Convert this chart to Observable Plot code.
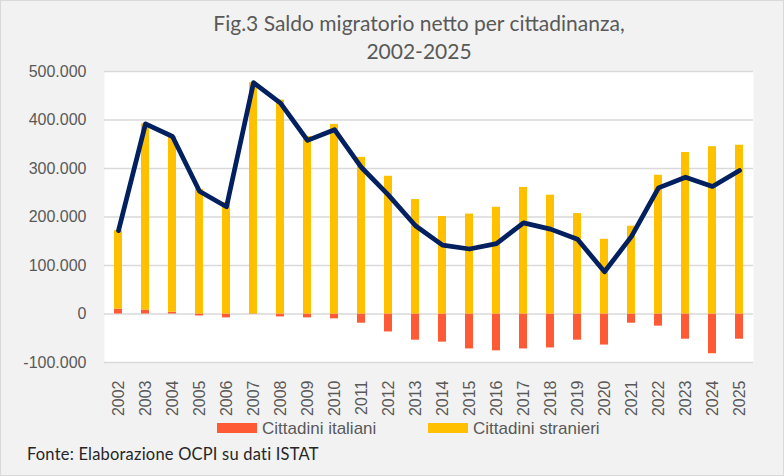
<!DOCTYPE html>
<html><head><meta charset="utf-8">
<script src="https://cdn.jsdelivr.net/npm/d3@7"></script>
<script src="https://cdn.jsdelivr.net/npm/@observablehq/plot@0.6"></script>
<style>
body{margin:0;background:#fff;}
#chart{position:relative;width:784px;height:476px;background:#f2f2f2;overflow:hidden;font-family:"Liberation Sans",Arial,sans-serif;}
#chart svg{position:absolute;left:0;top:0;}
#title{position:absolute;left:19px;width:800px;top:9px;text-align:center;font-family:Lato,sans-serif;font-size:21px;line-height:28px;color:#595959;white-space:nowrap;}
.sw{position:absolute;top:423px;width:40px;height:10px;}
.lt{position:absolute;top:419px;font-size:17px;line-height:19px;color:#595959;white-space:nowrap;}
#foot{position:absolute;left:27px;top:444px;font-family:Lato,sans-serif;font-size:16.5px;line-height:20px;color:#262626;white-space:nowrap;letter-spacing:0.2px;}
#border{position:absolute;left:0;top:0;width:784px;height:476px;box-sizing:border-box;border:1.5px solid #d9d9d9;pointer-events:none;}
</style>
</head><body>
<div id="chart">
  <div id="title">Fig.3 Saldo migratorio netto per cittadinanza,<br>2002-2025</div>
  <div id="legend"></div>
  <div id="foot">Fonte: Elaborazione OCPI su dati ISTAT</div>
  <div id="border"></div>
</div>
<script>
const years = ["2002","2003","2004","2005","2006","2007","2008","2009","2010","2011","2012","2013","2014","2015","2016","2017","2018","2019","2020","2021","2022","2023","2024","2025"];
const italiani = [10000, 8000, 3500, -4000, -8000, -1000, -6000, -8000, -10000, -19000, -37000, -54000, -58000, -72000, -76000, -72000, -70000, -54000, -64000, -19000, -25000, -52000, -82000, -52000];
const stranieri = [162000, 384000, 362000, 257000, 230000, 477000, 441000, 366000, 391000, 323000, 284000, 236000, 201000, 206000, 220000, 261000, 245000, 207000, 154000, 181000, 286000, 333000, 345000, 348000];
const totale = [172000, 392000, 366000, 253000, 221000, 477000, 435000, 358000, 380000, 302000, 245000, 182000, 142000, 134000, 145000, 188000, 175000, 154000, 87000, 160000, 260000, 282000, 263000, 296000];
const yTicks = [-100000, 0, 100000, 200000, 300000, 400000, 500000];
const seriesNames = ["Cittadini italiani", "Cittadini stranieri"];
const seriesColors = ["#FF5A36", "#FFC000"];

const bars = years.flatMap((y, i) => [
  {year: y, serie: seriesNames[0], value: italiani[i]},
  {year: y, serie: seriesNames[1], value: stranieri[i]}
]);
const lineData = years.map((y, i) => ({year: y, value: totale[i]}));
const itFmt = d3.formatLocale({decimal: ",", thousands: ".", grouping: [3], currency: ["€", ""], minus: "-"}).format(",.0f");

const plot = Plot.plot({
  width: 784, height: 420,
  marginLeft: 104, marginRight: 31, marginTop: 71, marginBottom: 58,
  style: {background: "transparent", fontFamily: "Liberation Sans, Arial, sans-serif", color: "#595959", overflow: "visible"},
  x: {type: "band", domain: years, paddingInner: 0.7, paddingOuter: 0.35, label: null},
  y: {domain: [-100000, 500000], label: null},
  color: {domain: seriesNames, range: seriesColors},
  marks: [
    Plot.frame({fill: "white", stroke: "none"}),
    Plot.ruleY(yTicks, {stroke: "#d9d9d9", strokeWidth: 1.5}),
    Plot.barY(bars, {x: "year", y: "value", fill: "serie"}),
    Plot.line(lineData, {x: "year", y: "value", stroke: "#002060", strokeWidth: 4.75, strokeLinejoin: "round", strokeLinecap: "round"}),
    Plot.axisY({ticks: yTicks, tickFormat: itFmt, tickSize: 0, tickPadding: 18, fontSize: 16}),
    Plot.axisX({tickRotate: -90, tickSize: 0, tickPadding: 18, fontSize: 16})
  ]
});
document.getElementById("chart").insertBefore(plot, document.getElementById("title"));

const legend = document.getElementById("legend");
const legendPos = [[217, 262], [428, 473]];
seriesNames.forEach((name, i) => {
  const sw = document.createElement("div");
  sw.className = "sw"; sw.style.left = legendPos[i][0] + "px"; sw.style.background = seriesColors[i];
  const lt = document.createElement("div");
  lt.className = "lt"; lt.style.left = legendPos[i][1] + "px"; lt.textContent = name;
  legend.appendChild(sw); legend.appendChild(lt);
});
</script>
</body></html>
